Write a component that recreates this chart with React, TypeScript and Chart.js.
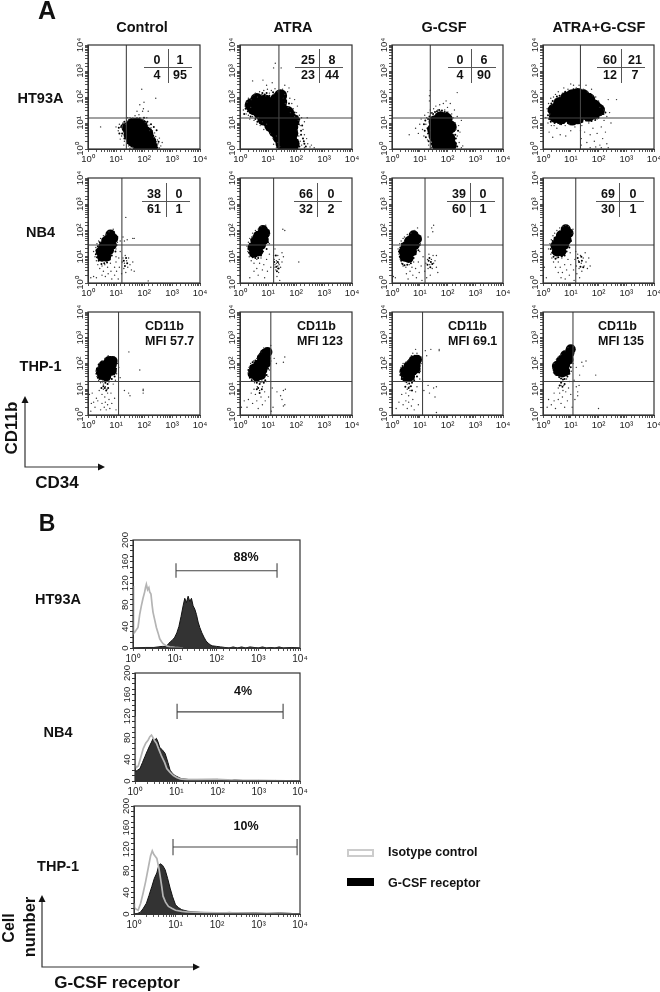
import React, { useEffect, useRef } from "react";
import { Chart, registerables } from "chart.js";

Chart.register(...registerables);

const conditions = ["Control", "ATRA", "G-CSF", "ATRA+G-CSF"];
const rowLabels = ["HT93A", "NB4", "THP-1"];
const decadeLabels = ["10⁰", "10¹", "10²", "10³", "10⁴"];
const histTickLabels = ["0", "40", "80", "120", "160", "200"];

const quadrantsHT93A = [[0, 1, 4, 95], [25, 8, 23, 44], [0, 6, 4, 90], [60, 21, 12, 7]];
const quadrantsNB4 = [[38, 0, 61, 1], [66, 0, 32, 2], [39, 0, 60, 1], [69, 0, 30, 1]];
const mfiTHP1 = ["MFI 57.7", "MFI 123", "MFI 69.1", "MFI 135"];

const gateX = [[1.37, 1.39, 1.38, 1.35], [1.21, 1.2, 1.19, 1.18], [1.09, 1.1, 1.1, 1.08]];
const gateY = [1.19, 1.45, 1.3];

const htControlCore = [1.45,.8,1.6,.95,1.75,.95,1.9,.9,1.5,.55,1.65,.7,1.8,.7,1.95,.7,2.1,.6,1.6,.35,1.75,.4,1.9,.4,2.05,.4,2.2,.3,1.8,.15,1.95,.15,2.1,.12,2.25,.1,2,0,2.2,0];
const htControlDots = [1,.85,1.08,.7,1.12,.95,1.2,.5,1.15,.38,1.22,.78,1.25,1,1.3,.3,1.28,.15,1.38,1.1,1.45,1.12,1.5,1.2,1.6,1.18,1.68,1.28,1.75,1.2,1.82,1.32,1.9,1.15,1.98,1.1,2.05,1.02,2.1,1.2,2.18,.92,2.25,.82,2.3,.7,2.38,.62,2.42,.48,2.48,.35,2.55,.42,2.5,.2,2.6,.12,2.55,.04,1.45,.12,1.5,.03,1.62,.05,.45,.85,1.98,1.55,1.85,1.7,1.75,1.45,1.95,1.45,2.15,1.45,2.42,1.95,1.92,2.3,2,1.8,2.65,.25,1.35,.95,1.28,.65,1.42,1.2,2.35,.45,2.2,.7];
const htControlEdge = [1.2,.9,1.25,.75,1.22,.6,1.18,.85,1.3,1.05,1.35,.45,1.3,.4,1.4,.3,1.42,.22,1.5,.15,1.55,.1,1.58,1.1,1.65,1.12,1.72,1.15,1.8,1.12,1.85,1.18,1.95,1.02,2.02,.95,2.1,.88,2.15,.82,2.22,.65,2.28,.58,2.33,.52,2.4,.35,2.42,.28,2.45,.15,2.42,.08,2.48,.05,1.38,.75,1.32,.85,1.4,1,1.48,1.05,1.52,1,1.25,.95,1.12,.6,1.1,.82,2,1.2,2.12,1.05,2.25,.95,2.35,.85,2.45,.72,2.52,.28];
const htAtraCore = [1,1.1,1.2,1.2,1.4,1.25,1.6,1.1,1.1,.9,1.3,.95,1.5,.9,1.7,.9,1.85,.85,1.25,.7,1.45,.7,1.65,.65,1.85,.6,1.4,.45,1.6,.4,1.8,.4,1.5,.2,1.7,.2,1.9,.2,1.65,.03,1.85,.03,.5,1.55,.7,1.4,.7,1.7,.9,1.55,.9,1.85,1.1,1.7,1.1,1.4,1.3,1.6,1.3,1.9,1.5,1.5,1.45,1.8,.6,1.9,1.45,2.05,1.7,1.4,1.75,1.25,1.9,1.1,.85,1.15,.4,1.7];
const htAtraDots = [.12,1.5,.18,1.65,.22,1.35,.25,1.8,.3,1.95,.3,1.3,.35,1.15,.38,1.6,.4,1.9,.42,2.02,.45,1.25,.5,2.08,.5,1.1,.55,2.15,.6,.95,.62,2,.65,1.2,.7,2.2,.72,.9,.78,2.1,.8,1.05,.85,.75,.85,2.25,.92,2.05,.95,.95,.98,2.3,1.05,2.15,1.08,.6,1.12,2.25,1.2,2.1,1.18,.4,1.25,2.32,1.3,.5,1.35,.25,1.35,2.2,1.42,.1,1.52,2.3,1.55,1.95,1.6,2.1,1.62,1.75,1.7,2.2,1.72,1.6,1.78,1.95,1.8,1.4,1.85,1.75,1.9,1.55,1.95,1.9,1.95,1.25,2.02,1.4,2.05,1.65,2.08,1.1,2.12,1.3,2.15,.9,2.2,1.2,2.25,.75,2.3,1.05,2.3,.55,2.38,.4,2.42,.2,2.5,.08,2.55,.15,2.65,.05,2.05,.7,2.1,.5,2.15,.3,2.2,.15,2.3,.05,1.3,.05,1.2,.18,1.26,3.3,1.2,3.12,1.47,3.12,.45,2.62,.82,2.65,.95,2.45,1.15,2.55,1.6,2.45,1.75,2.35,2.4,1.2];
const htAtraEdge = [.15,1.35,.2,1.55,.28,1.6,.28,1.45,.32,1.75,.35,1.4,.38,1.25,.42,1.5,.42,1.8,.48,1.95,.52,1.35,.55,1.15,.58,2.02,.62,1.05,.68,2.08,.75,1.1,.8,2.15,.88,1.15,.88,2.1,.95,2.15,1.02,.95,1.05,2.05,1.12,.8,1.18,2.18,1.2,.6,1.28,2.1,1.25,.4,1.35,.55,1.42,2.2,1.58,1.95,1.65,1.85,1.75,1.75,1.8,1.55,1.88,1.45,1.95,1.4,2,1.15,2.05,1.25,2.1,.95,2.12,1.15,2.18,.7,2.18,.55,2.22,.9,2.25,.4,2.28,.3,2.3,.2,2.35,.1,2.12,.1,2.05,.35,2.02,.6];
const htGcsfCore = [1.55,1.05,1.75,1.2,1.95,1.15,1.5,.75,1.7,.85,1.95,.8,2.1,.85,1.55,.5,1.7,.45,1.9,.45,2.05,.4,1.65,.18,1.8,.15,2,.1,1.8,.02,2.1,.15];
const htGcsfDots = [.62,.55,.85,.8,.95,.6,1.05,1.15,1,.95,1.1,.75,1.15,.5,1.18,1.3,1.22,.95,1.25,1.2,1.28,.35,1.3,1.4,1.32,.15,1.38,1.5,1.45,1.4,1.42,.05,1.5,1.55,1.58,1.65,1.65,1.5,1.72,1.7,1.75,1.45,1.85,1.75,1.9,1.5,2,1.6,2.02,1.42,2.1,1.75,2.15,1.35,2.2,1.2,2.25,1.5,2.28,1,2.3,.75,2.35,1.25,2.35,.5,2.4,.9,2.42,.25,2.45,.65,2.5,.05,2.55,.12,2.5,1.1,2.35,2.17,1.38,2.25,1.35,2.05,1.35,1.85,1.38,.4,1.38,.7,1.95,1.85];
const htGcsfEdge = [1.15,.95,1.18,.7,1.2,1.1,1.22,.45,1.28,.8,1.3,.6,1.3,1.15,1.32,.3,1.35,1.25,1.38,.95,1.4,1.38,1.42,.2,1.45,.3,1.48,1.35,1.55,1.42,1.62,1.45,1.7,1.5,1.8,1.48,1.9,1.42,1.98,1.4,2.05,1.3,2.12,1.22,2.15,1.05,2.2,1.02,2.22,.9,2.25,.72,2.28,.55,2.3,.4,2.3,.22,2.35,.1,2.38,.7];
const htComboCore = [.4,1.5,.45,1.25,.6,1.75,.65,1.45,.65,1.2,.85,1.95,.85,1.6,.85,1.3,1.05,2.05,1.05,1.75,1.05,1.45,1.05,1.15,1.25,2.1,1.25,1.8,1.25,1.5,1.25,1.2,1.45,2.05,1.45,1.7,1.45,1.4,1.65,1.9,1.65,1.55,1.65,1.3,1.85,1.65,1.85,1.4,2,1.5];
const htComboDots = [.1,1.2,.15,1.55,.18,1,.2,1.75,.22,.65,.25,1.35,.28,1.95,.3,.9,.32,1.7,.35,.45,.38,2,.4,.9,.45,2.1,.5,.8,.55,2.2,.6,.95,.62,.55,.7,2.15,.75,2.35,.8,.9,.82,.5,.9,2.3,.95,.95,1,.7,1,2.5,1.1,2.45,1.15,.85,1.2,2.35,1.3,2.45,1.35,.7,1.38,.4,1.38,.15,1.4,.9,1.45,2.3,1.5,.65,1.55,2.45,1.58,.25,1.6,2.2,1.65,1,1.7,.55,1.75,2.3,1.8,2.05,1.8,.8,1.85,.3,1.9,2,1.95,1.15,1.95,.6,2,1.85,2.05,.15,2.05,1.6,2.1,1.3,2.1,.85,2.15,.4,2.2,1.5,2.2,1.1,2.25,.65,2.3,1.25,2.3,.2,2.35,.05,2.4,1.4,2.35,1.9,2.65,1.9,2.45,1,1.7,.05,1.9,.08,2.1,.05];
const htComboEdge = [.18,1.3,.2,1.45,.22,1.15,.25,1.6,.28,1.05,.3,1.75,.35,1.85,.38,1.08,.42,1,.45,1.9,.5,2.02,.55,1,.6,2.05,.65,.95,.7,2.1,.75,1,.8,2.2,.9,1,.95,2.2,1,1,1.1,2.3,1.15,1,1.2,2.25,1.3,1,1.35,2.3,1.42,1.05,1.5,2.25,1.55,1.1,1.62,2.1,1.7,2.12,1.75,1.08,1.8,1.9,1.88,1.12,1.95,1.75,2,1.2,2.08,1.4,2.12,1.55,2.18,1.35,2.25,1.4];

const nbControlCore = [.5,1,.65,1,.45,1.2,.6,1.2,.75,1.25,.55,1.4,.7,1.45,.85,1.45,.65,1.6,.8,1.65,.9,1.7,.8,1.85];
const nbControlDots = [.2,1.2,.25,1,.28,1.35,.3,.85,.32,1.5,.35,.7,.38,1.6,.42,.55,.45,1.7,.5,.65,.5,.3,.55,.45,.55,1.8,.6,.7,.62,.25,.65,1.85,.7,.6,.72,.35,.75,1.95,.8,.75,.82,.45,.85,.15,.9,2.05,.95,.6,.95,.3,1,1.3,1,1,1,.8,1.02,.45,1.05,1.55,1.08,.15,1.1,.95,1.12,.6,1.15,1.2,1.15,1.6,1.2,.35,1.22,.8,1.25,.95,1.28,.55,1.3,.75,1.33,1.05,1.35,.4,1.38,.85,1.42,.6,1.45,.95,1.5,.7,1.55,.5,1.6,.8,1.65,.45,.2,.25,.3,.2,.1,.2,1.25,1.75,1.3,1.6,1.4,1.65,1.6,1.7,1.65,1.7,1.35,2.5,2.15,.08];
const nbControlEdge = [.28,1.1,.3,1.25,.32,.98,.35,1.4,.38,.85,.42,1.55,.48,.72,.52,1.68,.58,.75,.62,1.78,.68,.78,.72,1.88,.78,.9,.85,1.05,.92,1.95,.98,1.2,1.02,1.45,1.05,1.75,1.28,.85,1.32,.65,1.36,.95,1.4,.75];
const nbAtraCore = [.5,1.15,.65,1.2,.45,1.35,.6,1.4,.75,1.45,.55,1.6,.7,1.65,.85,1.65,.65,1.8,.8,1.85,.9,1.9,.82,2.02];
const nbAtraDots = [.25,1.4,.28,1.2,.3,1.55,.33,1,.35,1.7,.4,.85,.42,1.75,.45,1.9,.5,.75,.5,.45,.55,2,.6,.9,.6,.55,.65,.3,.65,2.05,.7,.75,.75,.95,.75,2.15,.8,.5,.85,.7,.88,.2,.92,2.2,.95,.9,.98,.45,1.05,1.85,1.05,1.5,1.05,1.1,1.1,.6,1.25,1.3,1.2,1.05,1.22,.9,1.25,.7,1.28,.5,1.3,.85,1.32,.25,1.35,1.05,1.35,.65,1.38,.4,1.4,.9,1.42,.1,1.45,.6,1.5,.8,1.5,1.15,1.3,.75,1.25,.6,1.35,.55,1.38,.75,1.55,1,1.4,.7,.35,.2,2.1,.8,1.53,2.05,1.6,2];
const nbAtraEdge = [.3,1.3,.32,1.15,.35,1.5,.38,1.05,.4,1.65,.45,.98,.48,1.78,.55,.95,.6,1.9,.65,.95,.7,2,.75,1.05,.82,1.2,.9,2.1,.95,1.3,1,1.55,1,1.8,1.02,2,1.22,.8,1.28,1.05,1.3,.62,1.32,.45,1.35,.8,1.38,.55];
const nbGcsfCore = [.45,1,.6,.95,.42,1.2,.58,1.2,.72,1.2,.5,1.4,.66,1.42,.82,1.45,.62,1.6,.78,1.62,.9,1.68,.78,1.82];
const nbGcsfDots = [.22,1.3,.25,1.1,.28,1.5,.3,.9,.33,1.6,.35,.75,.4,.65,.4,1.7,.45,1.75,.5,.6,.52,.35,.55,1.85,.58,.15,.62,.7,.65,.45,.68,1.9,.72,.6,.75,.3,.78,.8,.8,2,.85,.55,.88,.2,.92,2.1,.95,.8,.98,.4,1,1.2,1.02,1.5,1.05,.65,1.08,.1,1.12,1,1.18,.45,1.22,.75,1.25,.2,1.28,.9,1.3,.55,1.33,1.1,1.36,.7,1.38,.3,1.42,.9,1.45,.55,1.48,1.05,1.5,.75,1.55,.85,1.6,.6,1.65,.4,.12,.2,.05,.25,1.43,2.1,1.47,1.95,1.5,2.2,1.3,1.75,1.6,1.05];
const nbGcsfEdge = [.25,1.2,.28,1,.3,1.35,.33,.85,.36,1.5,.38,.72,.45,.68,.48,1.62,.55,.7,.6,1.75,.68,.75,.72,1.8,.78,.95,.85,1.1,.9,1.9,.95,1.25,1,1.45,1,1.75,1.28,.7,1.32,.85,1.38,.6,1.4,.8,1.45,.72,1.35,.95];
const nbComboCore = [.5,1.2,.66,1.2,.45,1.42,.6,1.42,.76,1.45,.55,1.62,.7,1.65,.85,1.65,.65,1.82,.8,1.85,.92,1.9,.82,2.05];
const nbComboDots = [.2,1.3,.25,1.5,.28,1.1,.3,1.65,.32,.95,.36,1.8,.38,.8,.42,1.9,.45,.6,.5,.95,.5,2,.55,.4,.55,.8,.6,2.1,.62,.6,.65,.2,.68,.95,.7,.4,.72,2.15,.78,.7,.8,.15,.82,2.2,.85,.5,.9,.9,.92,2.15,.95,.3,.98,1.15,1,.7,1.02,1.6,1.05,1.9,1.08,2.05,1.1,.5,1.12,.1,1.15,.9,1.18,1.2,1.2,.65,1.22,.35,1.25,1.1,1.28,.85,1.3,.55,1.32,.2,1.35,1.05,1.38,.75,1.4,.45,1.45,.95,1.48,.65,1.52,1.15,1.55,.8,1.6,.55,1.65,.95,1.7,.65,.05,.6,.12,.2];
const nbComboEdge = [.28,1.3,.3,1.45,.33,1.15,.35,1.6,.38,1,.42,1.72,.45,.92,.5,1.82,.55,.98,.6,1.95,.68,1.02,.72,2.05,.78,1.05,.85,1.2,.92,2.08,.95,1.35,1,1.6,1,1.85,1.02,1.95,1.25,.95,1.3,.8,1.35,.62,1.4,.85,1.45,.6,1.38,1];

const thpControlCore = [.5,1.55,.65,1.5,.45,1.72,.6,1.72,.75,1.7,.85,1.72,.55,1.92,.7,1.92,.85,1.95,.75,2.1,.88,2.1];
const thpControlDots = [.3,1.7,.32,1.5,.35,1.85,.38,1.35,.4,2,.45,1.25,.5,2.1,.55,1.2,.6,2.2,.62,1.1,.68,1,.7,.85,.72,2.3,.55,1,.5,.8,.4,.95,.6,.7,.3,.65,.2,.5,.1,.15,.15,.85,.25,.3,.35,.55,.45,.2,.5,.45,.58,.3,.62,.5,.65,.2,.7,.4,.75,.6,.78,.25,.82,.85,.85,.45,.9,1.2,.95,.65,.98,1.35,1.02,1.6,1.05,2,1,.2,1.1,1.85,1.15,1.45,1.3,.95,1.45,.85,1.5,.75,1.97,1,1.97,.95,1.97,.85,1.85,1.75,1.46,2.45,.05,.8,.12,.45];
const thpControlEdge = [.3,1.6,.32,1.8,.35,1.45,.38,1.95,.42,1.4,.48,2.05,.52,1.3,.6,2.12,.62,1.25,.68,2.18,.7,1.2,.75,1.3,.8,2.25,.85,1.4,.9,2.2,.95,1.5,1,1.8,1,2,.6,1.05,.55,1.12,.65,.95,.72,1.05,.48,1.05];
const thpAtraCore = [.45,1.6,.6,1.5,.75,1.55,.5,1.8,.65,1.75,.8,1.75,.65,1.95,.8,2,.92,2,.78,2.2,.92,2.2,.88,2.38,.98,2.45];
const thpAtraDots = [.3,1.65,.32,1.85,.38,2,.42,1.4,.48,2.1,.52,1.25,.6,2.2,.62,1.1,.68,2.35,.7,.95,.72,1.25,.75,2.45,.8,1.1,.85,2.6,.5,1,.55,.8,.4,.85,.3,.6,.15,.55,.05,.3,.25,.3,.45,.45,.6,.55,.65,.25,.75,.7,.8,.4,.88,.9,.9,.55,.95,1.3,1,1.5,1.02,.7,1.05,1.75,1.1,2.7,1.1,2.1,1.12,.15,1.15,1.05,1.18,.3,1.22,2.2,1.3,2,1.32,.9,1.45,.75,1.5,.6,1.55,.95,1.55,.35,1.55,2.05,1.6,.4,1.62,1,1.6,2.25];
const thpAtraEdge = [.3,1.75,.32,1.55,.35,1.45,.38,1.9,.42,1.35,.45,2.05,.52,1.32,.55,2.12,.6,1.25,.65,2.28,.7,1.2,.72,2.38,.78,1.3,.8,2.5,.85,1.25,.9,1.35,.95,1.55,1,1.8,1,2.05,1.02,2.3,.6,1,.65,1.05,.7,.85,.78,1];
const thpGcsfCore = [.5,1.5,.65,1.5,.45,1.7,.6,1.7,.75,1.72,.85,1.8,.6,1.9,.72,1.92,.85,1.98,.78,2.12,.9,2.15];
const thpGcsfDots = [.3,1.65,.32,1.85,.38,1.45,.4,2,.45,1.3,.5,2.05,.55,1.2,.6,2.15,.62,1.1,.65,2.2,.7,2.3,.75,2.4,.85,2.55,.9,2.4,.55,1,.6,.75,.5,.85,.35,.8,.25,.5,.15,.25,.4,.4,.5,.55,.55,.25,.6,.5,.65,.95,.7,.35,.75,.6,.8,.2,.85,.9,.9,1.1,.95,.4,1,1.4,1.02,1.7,1.05,2,1.08,2.25,1.1,1.35,1.15,.95,1.2,2.5,1.25,2.3,1.3,1.15,1.35,.85,1.4,2.55,1.5,1.05,1.55,.7,1.6,1.1,1.7,2.5,1.7,2.55,1.6,.1];
const thpGcsfEdge = [.3,1.55,.32,1.75,.35,1.4,.38,1.9,.42,1.35,.48,1.98,.52,1.28,.58,2.1,.62,1.22,.68,2.2,.72,1.25,.8,1.35,.82,2.3,.9,1.5,.95,2.28,.98,1.65,1,1.9,1,2.12,.6,1.05,.68,1.12,.72,.95,.48,1.1];
const thpComboCore = [.55,1.7,.7,1.65,.8,1.7,.5,1.9,.65,1.9,.8,1.95,.65,2.1,.8,2.15,.92,2.15,.8,2.32,.95,2.4,1,2.55];
const thpComboDots = [.35,1.8,.38,1.65,.4,2,.45,1.55,.48,2.15,.55,2.25,.6,1.45,.65,2.35,.7,1.3,.75,1.15,.8,2.5,.85,1.4,.9,2.62,.65,1.15,.55,1.05,.72,.95,.4,.85,.2,.6,.15,.3,.3,.4,.4,.55,.45,.25,.55,.6,.6,.85,.65,.45,.7,.7,.78,.3,.82,.9,.88,.55,.92,1.05,.95,1.3,1,.8,1.02,1.7,1.05,.3,1.08,2,1.1,2.65,1.12,1.35,1.15,.6,1.2,1.1,1.2,1.85,1.25,.9,1.3,1.15,1.32,1.55,1.4,2.05,1.45,1.9,1.55,2.1,1.9,1.55,2,.25,1.25,.75];
const thpComboEdge = [.38,1.75,.4,1.9,.42,1.62,.45,2.05,.5,1.55,.52,2.18,.58,1.48,.6,2.28,.65,1.42,.7,2.4,.72,1.38,.78,1.4,.85,2.55,.88,1.5,.95,1.6,1,1.85,1.02,2.1,1.05,2.35,1.05,2.6,.65,1.25,.7,1.1,.78,1.2,.6,1.15];

const coreSets = [htControlCore, htAtraCore, htGcsfCore, htComboCore, nbControlCore, nbAtraCore, nbGcsfCore, nbComboCore, thpControlCore, thpAtraCore, thpGcsfCore, thpComboCore];
const dotSets = [htControlDots, htAtraDots, htGcsfDots, htComboDots, nbControlDots, nbAtraDots, nbGcsfDots, nbComboDots, thpControlDots, thpAtraDots, thpGcsfDots, thpComboDots];
const edgeSets = [htControlEdge, htAtraEdge, htGcsfEdge, htComboEdge, nbControlEdge, nbAtraEdge, nbGcsfEdge, nbComboEdge, thpControlEdge, thpAtraEdge, thpGcsfEdge, thpComboEdge];

// Histograms: x in log10 decades, y in cell counts
const htIsoX = [0,.005,.02,.05,.08,.12,.16,.2,.24,.28,.3,.32,.35,.38,.4,.43,.46,.48,.52,.56,.6,.64,.68,.72,.8,.88,1,1.2];
const htIsoY = [115,40,27,30,34,38,62,78,92,104,112,118,108,112,104,100,78,66,52,38,28,17,12,8,4,2,1,0];
const htRecX = [0,.3,.5,.6,.7,.8,.85,.9,.95,1,1.05,1.1,1.15,1.2,1.24,1.28,1.32,1.36,1.4,1.44,1.48,1.52,1.56,1.6,1.65,1.7,1.75,1.8,1.85,1.9,2,2.1,2.2,2.3,2.4,2.5,2.6,2.7,2.8,2.9,3,3.1,3.2,3.3,3.4,3.5,3.6,3.8,4];
const htRecY = [0,1,1,2,3,3,8,12,15,20,28,40,58,78,92,84,96,86,92,78,72,62,48,38,28,20,13,9,6,4,3,2,1,0,2,0,2,0,2,1,0,2,0,1,0,2,0,1,0];
const nbIsoX = [0,.005,.03,.08,.14,.2,.26,.32,.36,.4,.44,.48,.52,.58,.65,.72,.77,.85,.93,1.02,1.1,1.25,1.5,2,2.5,3,4];
const nbIsoY = [120,30,25,28,44,60,70,76,82,85,80,74,70,58,45,34,23,16,10,6,4,2,2,3,1,1,0];
const nbRecX = [0,.06,.12,.18,.24,.3,.36,.4,.44,.48,.52,.56,.6,.66,.73,.8,.85,.91,.97,1.05,1.13,1.3,1.6,1.8,2,2.1,2.2,2.3,2.4,2.6,2.8,3,3.2,3.4,3.6,3.8,4];
const nbRecY = [17,20,23,34,45,56,66,72,79,76,79,72,62,58,51,34,20,14,10,7,4,3,3,3,3,2,1,0,2,1,0,1,0,1,0,1,0];
const thpIsoX = [0,.01,.05,.1,.16,.22,.28,.35,.4,.44,.48,.52,.55,.6,.63,.67,.7,.76,.83,.92,1,1.15,1.27,1.6,2,2.5,3,3.5,4];
const thpIsoY = [20,12,9,7,20,39,60,88,108,117,110,106,103,85,70,50,33,22,14,10,7,5,4,3,2,2,1,1,0];
const thpRecX = [0,.08,.15,.22,.3,.36,.43,.49,.55,.59,.63,.69,.75,.81,.87,.93,1,1.07,1.15,1.3,1.6,2,2.3,2.6,2.9,3.2,3.5,3.8,4];
const thpRecY = [0,1,3,10,20,34,51,66,76,88,93,90,82,66,48,32,17,12,8,5,3,2,3,2,2,1,2,1,0];
const histIso = [[htIsoX, htIsoY], [nbIsoX, nbIsoY], [thpIsoX, thpIsoY]];
const histRec = [[htRecX, htRecY], [nbRecX, nbRecY], [thpRecX, thpRecY]];
const histGateLabels = ["88%", "4%", "10%"];
const histGateStart = [1.03, 1.02, .94];
const histGateEnd = [3.45, 3.59, 3.93];
const histGateMid = [143, 128, 124];
const histGateLow = [130, 115, 109];
const histGateHigh = [157, 143, 139];

// ---------- Layout ----------
const FONT = '"Liberation Sans", Arial, sans-serif';
const INK = "#111";
const columnsLeft = [88, 240, 392, 543];
const columnsRight = [200, 352, 503, 654];
const rowsTop = [45, 178, 312];
const rowsBottom = [149, 283, 415];
const M = { l: 30, t: 12, r: 16, b: 22 };

const pairs = (flat: number[]) => {
  const out: { x: number; y: number }[] = [];
  for (let i = 0; i < flat.length; i += 2) out.push({ x: Math.pow(10, flat[i]), y: Math.pow(10, flat[i + 1]) });
  return out;
};
const decadeLabel = (v: number) => {
  const e = Math.log10(v);
  return Math.abs(e - Math.round(e)) < 1e-6 ? decadeLabels[Math.round(e)] : "";
};

const framePlugin = {
  id: "frame",
  afterDatasetsDraw(chart: any) {
    const { ctx, chartArea: a } = chart;
    ctx.save();
    ctx.strokeStyle = "#333";
    ctx.lineWidth = 1.2;
    ctx.strokeRect(a.left, a.top, a.right - a.left, a.bottom - a.top);
    ctx.restore();
  },
};

const xAxis = (size: number) => ({
  type: "logarithmic",
  min: 1,
  max: 10000,
  afterFit: (s: any) => { s.height = M.b; },
  border: { color: "#333", width: 1 },
  grid: { drawOnChartArea: false, tickLength: 3, tickColor: "#555", tickWidth: 1 },
  ticks: {
    autoSkip: false, maxRotation: 0, minRotation: 0, padding: 2,
    color: "#222", font: { family: FONT, size },
    callback: (v: number) => decadeLabel(v),
  },
});

const PlotCanvas = ({ L, T, R, B, make }: any) => {
  const ref = useRef<HTMLCanvasElement>(null);
  useEffect(() => {
    const chart = new Chart(ref.current as HTMLCanvasElement, make());
    return () => chart.destroy();
  }, []);
  return (
    <canvas
      ref={ref}
      width={R - L + M.l + M.r}
      height={B - T + M.t + M.b}
      style={{ position: "absolute", left: L - M.l, top: T - M.t, width: R - L + M.l + M.r, height: B - T + M.t + M.b }}
    />
  );
};

const flowConfig = (row: number, col: number) => {
  const i = row * 4 + col;
  const qx = Math.pow(10, gateX[row][col]);
  const qy = Math.pow(10, gateY[row]);
  const gateLine = { type: "line", showLine: true, pointRadius: 0, borderColor: "#444", borderWidth: 1.1, fill: false };
  return {
    type: "scatter",
    plugins: [framePlugin],
    data: {
      datasets: [
        { ...gateLine, data: [{ x: qx, y: 1 }, { x: qx, y: 10000 }] },
        { ...gateLine, data: [{ x: 1, y: qy }, { x: 10000, y: qy }] },
        { data: pairs(edgeSets[i]), pointRadius: 1, pointBorderWidth: 0, pointBackgroundColor: "#000" },
        { data: pairs(dotSets[i]), pointRadius: 0.7, pointBorderWidth: 0, pointBackgroundColor: "#333" },
        { data: pairs(coreSets[i]), pointRadius: row === 0 ? 6.5 : 5, pointBorderWidth: 0, pointBackgroundColor: "#000" },
      ],
    },
    options: {
      animation: false, responsive: false, devicePixelRatio: 1,
      layout: { autoPadding: false, padding: { top: M.t, right: M.r } },
      plugins: { legend: { display: false }, tooltip: { enabled: false } },
      scales: {
        x: xAxis(9.5),
        y: {
          ...xAxis(9.5),
          afterFit: (s: any) => { s.width = M.l; },
          ticks: {
            autoSkip: false, maxRotation: 90, minRotation: 90, padding: -3, crossAlign: "center",
            color: "#222", font: { family: FONT, size: 9.5 },
            callback: (v: number) => decadeLabel(v),
          },
        },
      },
    },
  };
};

const histConfig = (h: number) => {
  const line = (pair: number[][]) => pair[0].map((d, k) => ({ x: Math.pow(10, d), y: pair[1][k] }));
  const a = Math.pow(10, histGateStart[h]);
  const b = Math.pow(10, histGateEnd[h]);
  return {
    type: "line",
    plugins: [framePlugin],
    data: {
      datasets: [
        {
          data: [
            { x: a, y: histGateLow[h] }, { x: a, y: histGateHigh[h] }, { x: a, y: histGateMid[h] },
            { x: b, y: histGateMid[h] }, { x: b, y: histGateHigh[h] }, { x: b, y: histGateLow[h] },
          ],
          borderColor: "#444", borderWidth: 1.1, pointRadius: 0, fill: false,
        },
        { label: "Isotype control", data: line(histIso[h]), borderColor: "#b4b4b4", borderWidth: 1.7, pointRadius: 0, fill: false },
        { label: "G-CSF receptor", data: line(histRec[h]), borderColor: "#111", backgroundColor: "#333", borderWidth: 1, pointRadius: 0, fill: "origin" },
      ],
    },
    options: {
      animation: false, responsive: false, devicePixelRatio: 1,
      layout: { autoPadding: false, padding: { top: M.t, right: M.r } },
      plugins: { legend: { display: false }, tooltip: { enabled: false } },
      scales: {
        x: xAxis(10),
        y: {
          type: "linear", min: 0, max: 200,
          afterFit: (s: any) => { s.width = M.l; },
          border: { color: "#333", width: 1 },
          grid: { drawOnChartArea: false, tickLength: 3, tickColor: "#333" },
          ticks: {
            stepSize: 10, autoSkip: false, maxRotation: 90, minRotation: 90, padding: -3, crossAlign: "center",
            color: "#222", font: { family: FONT, size: 9.5 },
            callback: (v: number) => (v % 40 === 0 ? histTickLabels[v / 40] : ""),
          },
        },
      },
    },
  };
};

const Txt = ({ x, y, s = 13, align = "center", rot = 0, children }: any) => (
  <div
    style={{
      position: "absolute", left: x, top: y, whiteSpace: "nowrap", fontFamily: FONT, fontWeight: 700, fontSize: s,
      lineHeight: 1, color: INK,
      transform: `translate(${align === "center" ? "-50%" : "0"}, -50%)${rot ? ` rotate(${rot}deg)` : ""}`,
    }}
  >
    {children}
  </div>
);

const Bar = ({ x, y, w, h, c = "#555" }: any) => (
  <div style={{ position: "absolute", left: x, top: y, width: w, height: h, background: c }} />
);

// Inset quadrant tables: cross position per panel
const insets = [
  { vx: [168, 319, 471, 621], hy: 67, top: 49, hl: [144, 295, 448, 597], lx: [157, 308, 460, 610], rx: [180, 332, 484, 635], y1: 60, y2: 75 },
  { vx: [166, 317, 470, 619], hy: 201, top: 183, hl: [142, 294, 447, 596], lx: [154, 306, 459, 608], rx: [179, 331, 483, 633], y1: 194, y2: 209 },
];
const mfiLeft = [145, 297, 448, 598];
const conditionCenter = [142, 293, 444, 599];
const rowLabelY = [98, 232, 366];
const histBox = [
  { L: 133, T: 540, R: 300, B: 648 },
  { L: 135, T: 673, R: 300, B: 781 },
  { L: 134, T: 806, R: 300, B: 914 },
];
const histLabelY = [599, 732, 866];
const histPctPos = [[246, 557], [243, 691], [246, 826]];

const Arrows = () => (
  <svg width={660} height={992} style={{ position: "absolute", left: 0, top: 0 }}>
    <g stroke="#333" strokeWidth={1.2} fill="none">
      <path d="M25 399 V467 H102" />
      <path d="M42 898 V967 H196" />
    </g>
    <g fill="#111">
      <path d="M25 396 L21.5 403 H28.5 Z" />
      <path d="M105 467 L98 463.5 V470.5 Z" />
      <path d="M42 895 L38.5 902 H45.5 Z" />
      <path d="M200 967 L193 963.5 V970.5 Z" />
    </g>
  </svg>
);

export default function App() {
  return (
    <div style={{ position: "absolute", left: 0, top: 0, width: 660, height: 992, background: "#fff", overflow: "hidden" }}>
      {rowLabels.map((_, r) =>
        conditions.map((_, c) => (
          <PlotCanvas
            key={`f${r}${c}`}
            L={columnsLeft[c]} T={rowsTop[r]} R={columnsRight[c]} B={rowsBottom[r]}
            make={() => flowConfig(r, c)}
          />
        ))
      )}
      {histBox.map((b, h) => (
        <PlotCanvas key={`h${h}`} {...b} make={() => histConfig(h)} />
      ))}
      <Arrows />

      <Txt x={47} y={10} s={25}>A</Txt>
      <Txt x={47} y={523} s={23}>B</Txt>
      {conditions.map((c, i) => <Txt key={c} x={conditionCenter[i]} y={27} s={14.5}>{c}</Txt>)}
      {rowLabels.map((l, i) => <Txt key={l} x={40.5} y={rowLabelY[i]} s={14.5}>{l}</Txt>)}

      {[quadrantsHT93A, quadrantsNB4].map((rows, r) =>
        rows.map((q, c) => {
          const g = insets[r];
          return (
            <React.Fragment key={`q${r}${c}`}>
              <Bar x={g.vx[c]} y={g.top} w={1} h={34} />
              <Bar x={g.hl[c]} y={g.hy} w={48} h={1} />
              <Txt x={g.lx[c]} y={g.y1} s={12.5}>{q[0]}</Txt>
              <Txt x={g.rx[c]} y={g.y1} s={12.5}>{q[1]}</Txt>
              <Txt x={g.lx[c]} y={g.y2} s={12.5}>{q[2]}</Txt>
              <Txt x={g.rx[c]} y={g.y2} s={12.5}>{q[3]}</Txt>
            </React.Fragment>
          );
        })
      )}
      {mfiTHP1.map((m, c) => (
        <React.Fragment key={m}>
          <Txt x={mfiLeft[c]} y={326} s={12.5} align="left">CD11b</Txt>
          <Txt x={mfiLeft[c]} y={341} s={12.5} align="left">{m}</Txt>
        </React.Fragment>
      ))}

      <Txt x={11} y={428} s={17} rot={-90}>CD11b</Txt>
      <Txt x={57} y={482} s={17}>CD34</Txt>

      {rowLabels.map((l, i) => <Txt key={`h${l}`} x={58} y={histLabelY[i]} s={14.5}>{l}</Txt>)}
      {histGateLabels.map((l, i) => <Txt key={l} x={histPctPos[i][0]} y={histPctPos[i][1]} s={12.5}>{l}</Txt>)}

      <div style={{ position: "absolute", left: 347, top: 849, width: 23, height: 4, border: "2px solid #ccc" }} />
      <div style={{ position: "absolute", left: 347, top: 878, width: 27, height: 8, background: "#000" }} />
      <Txt x={388} y={852} s={12.5} align="left">Isotype control</Txt>
      <Txt x={388} y={883} s={12.5} align="left">G-CSF receptor</Txt>

      <Txt x={9} y={928} s={16} rot={-90}>Cell</Txt>
      <Txt x={29} y={927} s={16.5} rot={-90}>number</Txt>
      <Txt x={117} y={982} s={17}>G-CSF receptor</Txt>
    </div>
  );
}
